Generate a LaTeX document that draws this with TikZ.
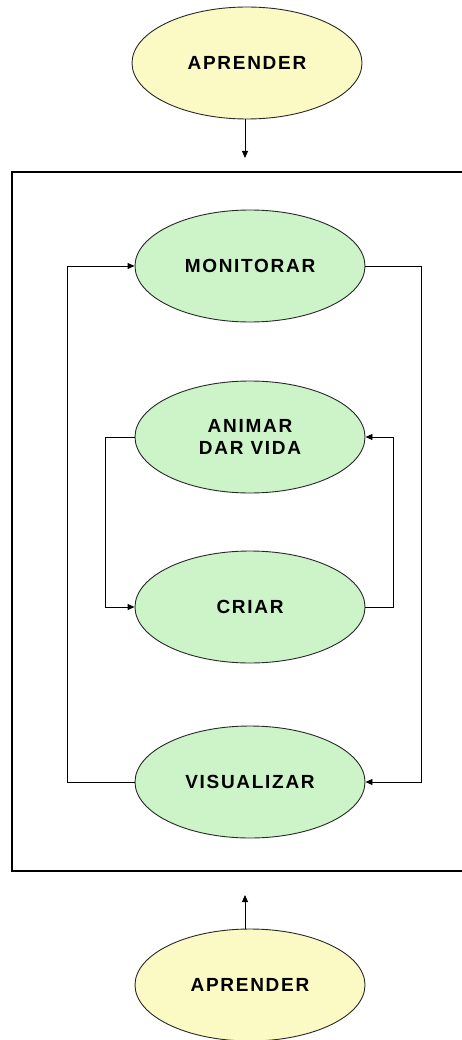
\documentclass[tikz,border=0pt]{standalone}
\usepackage{fontspec}
\setmainfont{Liberation Sans}
\newfontfamily\labelfont[LetterSpace=9]{Liberation Sans}
\usetikzlibrary{shapes.geometric,arrows.meta}
\definecolor{greenfill}{RGB}{204,244,200}
\definecolor{yellowfill}{RGB}{252,250,196}
\definecolor{edge}{RGB}{40,40,40}
\tikzset{
  oval/.style={ellipse, draw=edge, line width=0.9pt, minimum width=230pt, minimum height=112pt, inner sep=0pt,
    font=\labelfont\fontsize{19}{23}\selectfont\bfseries, align=center},
  greenoval/.style={oval, fill=greenfill},
  yellowoval/.style={oval, fill=yellowfill},
  conn/.style={draw=black, line width=0.9pt, -{Triangle[length=7pt,width=6pt]}},
  frame/.style={draw=black, line width=1.2pt}
}
\begin{document}
\begin{tikzpicture}[x=1pt,y=-1pt]
\useasboundingbox (0,0) rectangle (461,1040);
\fill[white] (0,0) rectangle (461,1040);
\draw[frame] (470,172) -- (12,172) -- (12,871) -- (470,871);
\node[yellowoval] (top) at (247,63) {APRENDER};
\node[greenoval] (mon) at (250,266) {MONITORAR};
\node[greenoval] (ani) at (250,437) {ANIMAR\\[-1pt]DAR VIDA};
\node[greenoval] (cri) at (250,607) {CRIAR};
\node[greenoval] (vis) at (250,782) {VISUALIZAR};
\node[yellowoval] (bot) at (250,985) {APRENDER};
\coordinate (topend) at (245,158);
\coordinate (botend) at (245,895);
\draw[conn] (top.south -| topend) -- (topend);
\draw[conn] (bot.north -| botend) -- (botend);
\draw[conn] (vis.west) -- (67,782) -- (67,266) -- (mon.west);
\draw[conn] (mon.east) -- (421,266) -- (421,782) -- (vis.east);
\draw[conn] (ani.west) -- (105,437) -- (105,607) -- (cri.west);
\draw[conn] (cri.east) -- (393,607) -- (393,437) -- (ani.east);
\end{tikzpicture}
\end{document}
